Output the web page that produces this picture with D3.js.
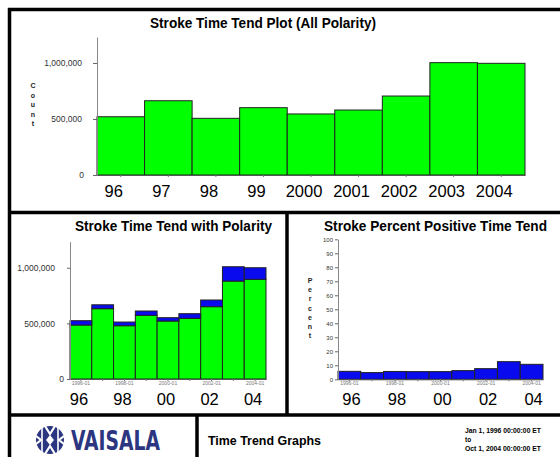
<!DOCTYPE html>
<html><head><meta charset="utf-8">
<script src="https://cdn.jsdelivr.net/npm/d3@7"></script>
<style>
body{margin:0;background:#fff;}
svg{display:block;font-family:"Liberation Sans",Arial,sans-serif;}
</style></head>
<body><svg id="c" width="560" height="457"></svg>
<script>
const years = ["1996","1997","1998","1999","2000","2001","2002","2003","2004"];
const topLabels = ["96","97","98","99","2000","2001","2002","2003","2004"];
const totalCounts = [520000, 663000, 506000, 601000, 545000, 580000, 705000, 1003000, 997000];
const negCounts = [485000, 632000, 479000, 572000, 521000, 545000, 650000, 880000, 896000];
const posCounts = [39000, 35000, 33000, 39000, 30000, 42000, 60000, 129000, 104000];
const pctPositive = [5.7, 4.8, 5.6, 5.5, 5.5, 6.2, 7.6, 12.6, 10.7];
const countTicks = [0, 500000, 1000000];
const pctTicks = [0,10,20,30,40,50,60,70,80,90,100];
const bigLabelYears = ["1996","1998","2000","2002","2004"];
const bigLabels = ["96","98","00","02","04"];
const smallLabels = ["1996-01","1998-01","2000-01","2002-01","2004-01"];

const svg = d3.select("#c");
const green = "#00ff00", blue = "#0a0aee", edge = "#222";
const fmt = d3.format(",");

// frame
const frame = [[8,9.5,560,9.5],[9.5,8,9.5,457],[8,212.5,560,212.5],[287,212,287,415],[8,415,560,415],[197,415,197,457]];
svg.selectAll("line.frame").data(frame).join("line").attr("class","frame")
  .attr("x1",d=>d[0]).attr("y1",d=>d[1]).attr("x2",d=>d[2]).attr("y2",d=>d[3])
  .attr("stroke","#000").attr("stroke-width",3.5);

function yAxis(g, scale, ticks, f, size, pad, fs){
  const ax = d3.axisLeft(scale).tickValues(ticks).tickFormat(f).tickSize(size).tickSizeOuter(0).tickPadding(pad);
  g.call(ax);
  g.select(".domain").attr("stroke","#888");
  g.selectAll(".tick line").attr("stroke","#666");
  g.selectAll(".tick text").attr("fill","#333").style("font-size",fs+"px").style("font-family","Liberation Sans, Arial, sans-serif");
}
function xAxis(g, scale){
  const ax = d3.axisBottom(scale).tickSize(2).tickFormat("").tickSizeOuter(0);
  g.call(ax);
  g.select(".domain").attr("stroke","#555");
  g.selectAll(".tick line").attr("stroke","#777");
}
function vertLetters(word, x, y0, dy){
  svg.append("g").selectAll("text").data(word.split("")).join("text")
    .attr("x",x).attr("y",(d,i)=>y0+i*dy).attr("text-anchor","middle")
    .style("font-size","7px").style("font-weight","bold").attr("fill","#222").text(d=>d);
}

// ---- Top chart
{
  const x = d3.scaleBand().domain(years).range([97,525]).padding(0);
  const y = d3.scaleLinear().domain([0,1232000]).range([175,37]);
  svg.append("g").selectAll("rect").data(years).join("rect")
    .attr("x",d=>x(d)).attr("width",x.bandwidth())
    .attr("y",(d,i)=>y(totalCounts[i])).attr("height",(d,i)=>y(0)-y(totalCounts[i]))
    .attr("fill",green).attr("stroke",edge).attr("stroke-width",1);
  xAxis(svg.append("g").attr("transform","translate(0,175)"), x);
  const ga = svg.append("g").attr("transform","translate(97,0)");
  yAxis(ga, y, countTicks, d=>fmt(d), 4, 11, 8.5);
  ga.selectAll(".tick text").filter(d=>d===0).attr("x",-13);
  svg.append("g").selectAll("text").data(years).join("text")
    .attr("x",d=>x(d)+x.bandwidth()/2-7).attr("y",197).attr("text-anchor","middle")
    .style("font-size","16.5px").attr("fill","#000").text((d,i)=>topLabels[i]);
  svg.append("text").attr("x",263).attr("y",28).attr("text-anchor","middle")
    .attr("textLength",226).attr("lengthAdjust","spacingAndGlyphs")
    .style("font-size","14px").style("font-weight","bold").text("Stroke Time Tend Plot (All Polarity)");
  vertLetters("Count", 33, 88, 9.5);
}

// ---- Bottom-left chart
{
  const x = d3.scaleBand().domain(years).range([70,266]).padding(0);
  const y = d3.scaleLinear().domain([0,1234000]).range([379,241.7]);
  const g = svg.append("g");
  g.selectAll("rect.neg").data(years).join("rect").attr("class","neg")
    .attr("x",d=>x(d)).attr("width",x.bandwidth())
    .attr("y",(d,i)=>y(negCounts[i])).attr("height",(d,i)=>y(0)-y(negCounts[i]))
    .attr("fill",green).attr("stroke",edge).attr("stroke-width",1);
  g.selectAll("rect.pos").data(years).join("rect").attr("class","pos")
    .attr("x",d=>x(d)).attr("width",x.bandwidth())
    .attr("y",(d,i)=>y(negCounts[i]+posCounts[i])).attr("height",(d,i)=>y(negCounts[i])-y(negCounts[i]+posCounts[i]))
    .attr("fill",blue).attr("stroke",edge).attr("stroke-width",1);
  xAxis(svg.append("g").attr("transform","translate(0,379)"), x);
  const ga = svg.append("g").attr("transform","translate(70,0)");
  yAxis(ga, y, countTicks, d=>fmt(d), 3, 12, 8.5);
  ga.selectAll(".tick text").filter(d=>d===0).attr("x",-6);
  svg.append("g").selectAll("text").data(bigLabelYears).join("text")
    .attr("x",d=>x(d)+x.bandwidth()/2-2).attr("y",405).attr("text-anchor","middle")
    .style("font-size","16.5px").text((d,i)=>bigLabels[i]);
  svg.append("g").selectAll("text").data(bigLabelYears).join("text")
    .attr("x",d=>x(d)+x.bandwidth()/2).attr("y",385).attr("text-anchor","middle")
    .style("font-size","5px").attr("fill","#777").text((d,i)=>smallLabels[i]);
  svg.append("text").attr("x",173.5).attr("y",231).attr("text-anchor","middle")
    .attr("textLength",197).attr("lengthAdjust","spacingAndGlyphs")
    .style("font-size","14px").style("font-weight","bold").text("Stroke Time Tend with Polarity");
}

// ---- Bottom-right chart
{
  const x = d3.scaleBand().domain(years).range([338,543]).padding(0);
  const y = d3.scaleLinear().domain([0,100]).range([379.3,239.3]);
  svg.append("g").selectAll("rect").data(years).join("rect")
    .attr("x",d=>x(d)).attr("width",x.bandwidth())
    .attr("y",(d,i)=>y(pctPositive[i])).attr("height",(d,i)=>y(0)-y(pctPositive[i]))
    .attr("fill",blue).attr("stroke",edge).attr("stroke-width",1);
  xAxis(svg.append("g").attr("transform","translate(0,379.3)"), x);
  const ga = svg.append("g").attr("transform","translate(338,0)");
  yAxis(ga, y, pctTicks, d=>d, 3, 6, 6);
  ga.selectAll(".tick text").attr("x",-5);
  svg.append("g").selectAll("text").data(bigLabelYears).join("text")
    .attr("x",d=>x(d)+x.bandwidth()/2+2).attr("y",405).attr("text-anchor","middle")
    .style("font-size","16.5px").text((d,i)=>bigLabels[i]);
  svg.append("g").selectAll("text").data(bigLabelYears).join("text")
    .attr("x",d=>x(d)+x.bandwidth()/2).attr("y",385).attr("text-anchor","middle")
    .style("font-size","5px").attr("fill","#777").text((d,i)=>smallLabels[i]);
  svg.append("text").attr("x",435.5).attr("y",231).attr("text-anchor","middle")
    .attr("textLength",223).attr("lengthAdjust","spacingAndGlyphs")
    .style("font-size","14px").style("font-weight","bold").text("Stroke Percent Positive Time Tend");
  vertLetters("Percent", 310, 283, 9.2);
}

// ---- Footer
{
  const navy = "#2c3680";
  const lg = svg.append("g").attr("transform","translate(50,440)");
  lg.append("circle").attr("r",14).attr("fill",navy);
  lg.append("path").attr("d","M-5,-14 L0,-6 L5,-14 M-5,14 L0,6 L5,14 M-14,-4 L-9,0 L-14,4 M14,-4 L9,0 L14,4")
    .attr("fill","none").attr("stroke","#fff").attr("stroke-width",2.2);
  lg.append("path").attr("d","M0,-5 L4,0 L0,5 L-4,0 Z").attr("fill","#fff");
  lg.append("path").attr("d","M-8,-12 L-8,12 M8,-12 L8,12").attr("stroke","#fff").attr("stroke-width",1.6);
  svg.append("text").attr("x",71).attr("y",450).attr("textLength",89).attr("lengthAdjust","spacingAndGlyphs")
    .style("font-family","'Liberation Sans Narrow','DejaVu Sans Condensed',sans-serif")
    .style("font-size","26px").style("font-weight","bold").attr("fill",navy).text("VAISALA");
  svg.append("text").attr("x",208).attr("y",445).style("font-size","12px").style("font-weight","bold")
    .attr("textLength",113).attr("lengthAdjust","spacingAndGlyphs").text("Time Trend Graphs");
  const dates = ["Jan 1, 1996 00:00:00 ET","to","Oct 1, 2004 00:00:00 ET"];
  const dt = svg.append("g").selectAll("text").data(dates).join("text")
    .attr("x",465).attr("y",(d,i)=>433+i*9)
    .style("font-size","6.5px").style("font-weight","bold").attr("fill","#000")
    .text(d=>d);
  dt.filter(d=>d.length>3).attr("textLength",76).attr("lengthAdjust","spacingAndGlyphs");
}
</script></body></html>
